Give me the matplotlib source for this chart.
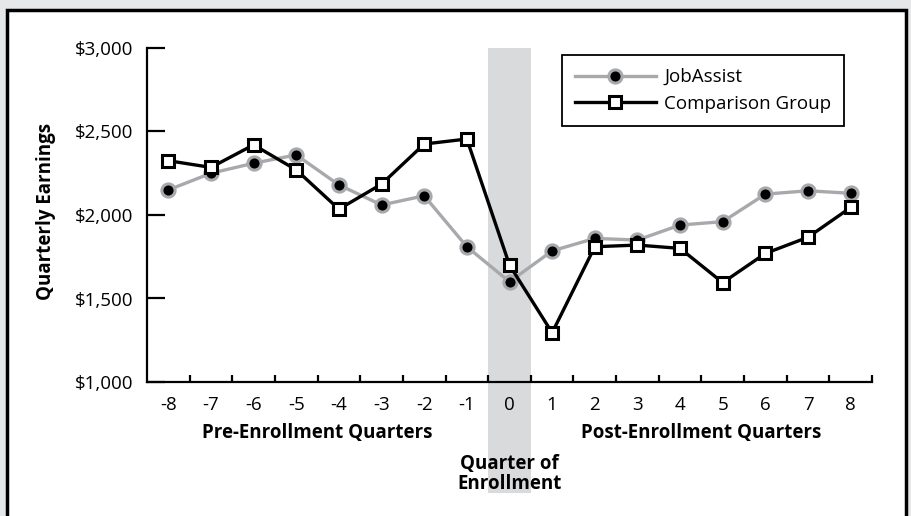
import matplotlib
matplotlib.use("Agg")
import matplotlib.pyplot as plt
from matplotlib.patches import Rectangle
from matplotlib.lines import Line2D

quarters = list(range(-8, 9))
jobassist = [2150, 2250, 2310, 2360, 2180, 2060, 2115, 1810, 1600,
             1785, 1860, 1850, 1940, 1960, 2125, 2145, 2130]
comparison = [2325, 2285, 2420, 2270, 2035, 2185, 2425, 2455, 1700,
              1295, 1810, 1820, 1800, 1595, 1770, 1867, 2045]
y_ticks = [1000, 1500, 2000, 2500, 3000]
y_labels = ["$1,000", "$1,500", "$2,000", "$2,500", "$3,000"]

GRAY = "#a7a9ac"
BAND = "#d9dadc"
W, H = 911, 516
FS = 13.5

plt.rcParams["font.family"] = ["Open Sans", "DejaVu Sans"]

fig = plt.figure(figsize=(W / 100, H / 100), dpi=100)
fig.patch.set_facecolor("#e6e7e8")

# white framed panel
frame = Rectangle((7 / W, -0.05), 899 / W, (H - 10) / H + 0.05,
                  transform=fig.transFigure, facecolor="white",
                  edgecolor="black", linewidth=2.5, zorder=-5)
fig.patches.append(frame)

ax = fig.add_axes([147 / W, 1 - 382 / H, 725 / W, 334 / H])
ax.set_facecolor("none")
ax.set_xlim(-8.5, 8.5)
ax.set_ylim(1000, 3000)

# enrollment quarter band (extends below axis)
band_bottom = (382 - 493) / 334
ax.add_patch(Rectangle((-0.5, band_bottom), 1, 1 - band_bottom,
                       transform=ax.get_xaxis_transform(), clip_on=False,
                       facecolor=BAND, edgecolor="none", zorder=0))

ax.plot(quarters, jobassist, color=GRAY, linewidth=2.4, marker="o",
        markersize=9.5, markerfacecolor="black", markeredgecolor=GRAY,
        markeredgewidth=2.2, zorder=3)
ax.plot(quarters, comparison, color="black", linewidth=2.4, marker="s",
        markersize=9, markerfacecolor="white", markeredgecolor="black",
        markeredgewidth=2.2, zorder=4)

for s in ["top", "right"]:
    ax.spines[s].set_visible(False)
for s in ["left", "bottom"]:
    ax.spines[s].set_linewidth(1.6)

ax.set_yticks(y_ticks)
ax.set_yticklabels(y_labels, fontsize=FS)
ax.tick_params(axis="y", direction="in", length=13, width=1.6, pad=10)

# ticks at category boundaries, labels at centers
ax.set_xticks([q + 0.5 for q in quarters])
ax.set_xticklabels([])
ax.tick_params(axis="x", direction="in", length=5, width=1.6)
for q in quarters:
    ax.text(q, -0.068, str(q), transform=ax.get_xaxis_transform(),
            ha="center", va="center", fontsize=FS)

ax.text(-4.5, -0.153, "Pre-Enrollment Quarters", transform=ax.get_xaxis_transform(),
        ha="center", va="center", fontsize=FS, fontweight="bold")
ax.text(4.5, -0.153, "Post-Enrollment Quarters", transform=ax.get_xaxis_transform(),
        ha="center", va="center", fontsize=FS, fontweight="bold")
ax.text(0, -0.275, "Quarter of\nEnrollment", transform=ax.get_xaxis_transform(),
        ha="center", va="center", fontsize=FS, fontweight="bold", linespacing=1.0)

fig.text(46 / W, 1 - 211 / H, "Quarterly Earnings", rotation=90,
         ha="center", va="center", fontsize=FS, fontweight="bold")

handles = [
    Line2D([0], [0], color=GRAY, linewidth=2.4, marker="o", markersize=9.5,
           markerfacecolor="black", markeredgecolor=GRAY, markeredgewidth=2.2),
    Line2D([0], [0], color="black", linewidth=2.4, marker="s", markersize=9,
           markerfacecolor="white", markeredgecolor="black", markeredgewidth=2.2),
]
leg = ax.legend(handles, ["JobAssist", "Comparison Group"], loc="upper left",
                bbox_to_anchor=(562 / W, 1 - 55 / H), bbox_transform=fig.transFigure,
                fontsize=FS, handlelength=4.3, handletextpad=0.45,
                borderpad=0.7, labelspacing=0.45, fancybox=False,
                framealpha=1, borderaxespad=0)
leg.get_frame().set_edgecolor("black")
leg.get_frame().set_linewidth(1.3)

fig.savefig("out.png", dpi=100, facecolor=fig.get_facecolor())
